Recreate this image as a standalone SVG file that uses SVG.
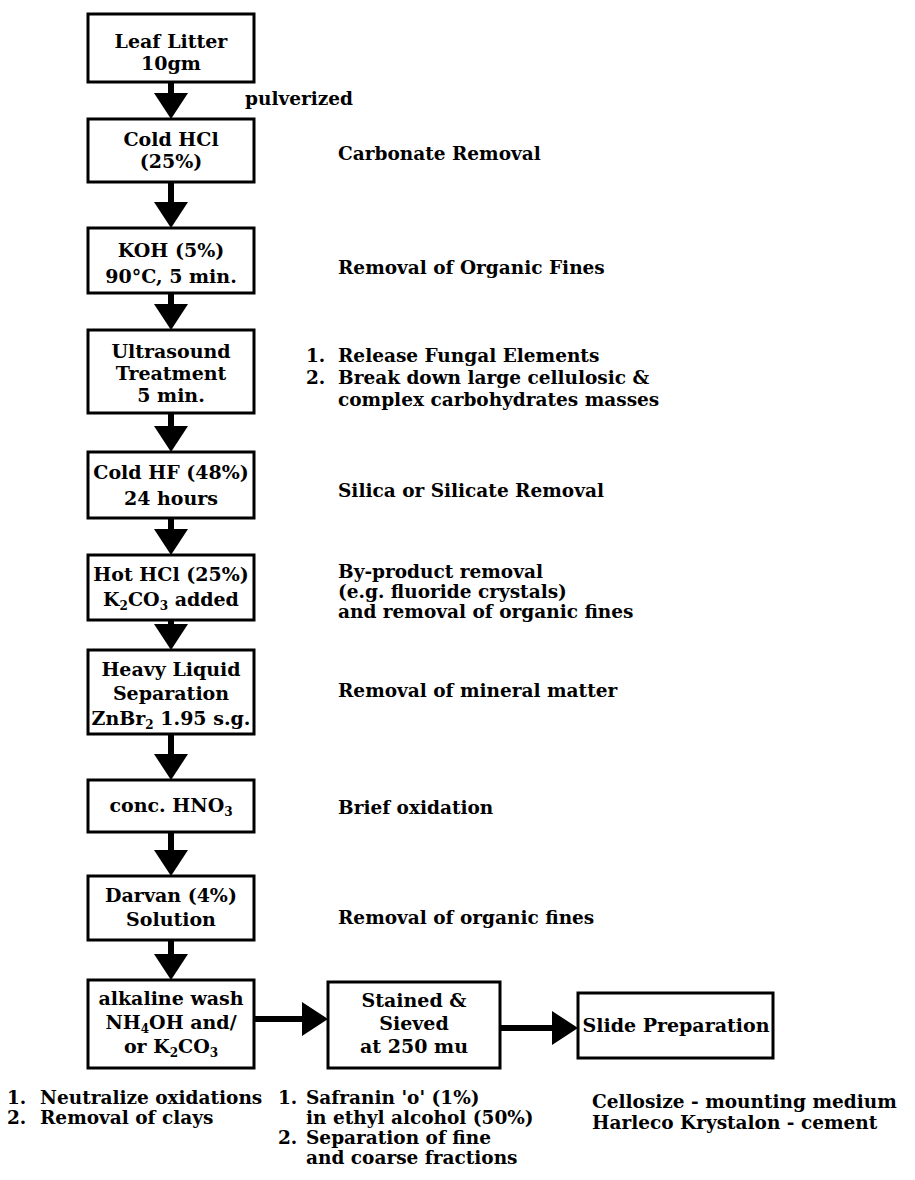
<svg xmlns="http://www.w3.org/2000/svg" width="915" height="1180" viewBox="0 0 915 1180">
<style>
text{font-family:"DejaVu Serif","Liberation Serif",serif;font-weight:bold;font-size:19px;fill:#000}
#notes text{font-size:18.5px}
.c{text-anchor:middle}
.box{fill:#fff;stroke:#000;stroke-width:3}
.sub{font-size:12px}
.con line{stroke:#000;stroke-width:6}
</style>
<defs>
<marker id="ah" viewBox="0 0 26 34" refX="6" refY="17" markerWidth="26" markerHeight="34" markerUnits="userSpaceOnUse" orient="auto"><path d="M0,0 L26,17 L0,34 Z" fill="#000"/></marker>
</defs>
<rect width="915" height="1180" fill="#fff"/>
<g class="con" id="connectors">
<line x1="171" y1="82" x2="171" y2="99" marker-end="url(#ah)"/>
<line x1="171" y1="182" x2="171" y2="208" marker-end="url(#ah)"/>
<line x1="171" y1="293" x2="171" y2="310" marker-end="url(#ah)"/>
<line x1="171" y1="413" x2="171" y2="432" marker-end="url(#ah)"/>
<line x1="171" y1="518" x2="171" y2="535" marker-end="url(#ah)"/>
<line x1="171" y1="620" x2="171" y2="630" marker-end="url(#ah)"/>
<line x1="171" y1="734" x2="171" y2="760" marker-end="url(#ah)"/>
<line x1="171" y1="832" x2="171" y2="856" marker-end="url(#ah)"/>
<line x1="171" y1="940" x2="171" y2="960" marker-end="url(#ah)"/>
<line x1="254" y1="1019" x2="308" y2="1019" marker-end="url(#ah)"/>
<line x1="500" y1="1028" x2="558" y2="1028" marker-end="url(#ah)"/>
</g>
<g id="notes">
<text x="245" y="105">pulverized</text>
<text x="338" y="160">Carbonate Removal</text>
<text x="338" y="274">Removal of Organic Fines</text>
<text x="306" y="362">1.</text><text x="338" y="362">Release Fungal Elements</text>
<text x="306" y="384">2.</text><text x="338" y="384">Break down large cellulosic &amp;</text>
<text x="338" y="406">complex carbohydrates masses</text>
<text x="338" y="497">Silica or Silicate Removal</text>
<text x="338" y="578">By-product removal</text>
<text x="338" y="598">(e.g. fluoride crystals)</text>
<text x="338" y="618">and removal of organic fines</text>
<text x="338" y="697">Removal of mineral matter</text>
<text x="338" y="814">Brief oxidation</text>
<text x="338" y="924">Removal of organic fines</text>
<text x="7" y="1104">1.</text><text x="40" y="1104">Neutralize oxidations</text>
<text x="7" y="1124">2.</text><text x="40" y="1124">Removal of clays</text>
<text x="278" y="1104">1.</text><text x="306" y="1104">Safranin 'o' (1%)</text>
<text x="306" y="1124">in ethyl alcohol (50%)</text>
<text x="278" y="1144">2.</text><text x="306" y="1144">Separation of fine</text>
<text x="306" y="1164">and coarse fractions</text>
<text x="592" y="1108">Cellosize - mounting medium</text>
<text x="592" y="1129">Harleco Krystalon - cement</text>
</g>
<g id="n1"><rect class="box" x="88" y="14" width="166" height="68"/><text class="c" x="171" y="48">Leaf Litter</text><text class="c" x="171" y="70">10gm</text></g>
<g id="n2"><rect class="box" x="88" y="119" width="166" height="63"/><text class="c" x="171" y="146">Cold HCl</text><text class="c" x="171" y="168">(25%)</text></g>
<g id="n3"><rect class="box" x="88" y="228" width="166" height="65"/><text class="c" x="171" y="257">KOH (5%)</text><text class="c" x="171" y="283">90°C, 5 min.</text></g>
<g id="n4"><rect class="box" x="88" y="330" width="166" height="83"/><text class="c" x="171" y="358">Ultrasound</text><text class="c" x="171" y="380">Treatment</text><text class="c" x="171" y="402">5 min.</text></g>
<g id="n5"><rect class="box" x="88" y="452" width="166" height="66"/><text class="c" x="171" y="479">Cold HF (48%)</text><text class="c" x="171" y="505">24 hours</text></g>
<g id="n6"><rect class="box" x="88" y="555" width="166" height="65"/><text class="c" x="171" y="581">Hot HCl (25%)</text><text class="c" x="171" y="606">K<tspan class="sub" dy="4">2</tspan><tspan dy="-4">CO</tspan><tspan class="sub" dy="4">3</tspan><tspan dy="-4"> added</tspan></text></g>
<g id="n7"><rect class="box" x="88" y="650" width="166" height="84"/><text class="c" x="171" y="676">Heavy Liquid</text><text class="c" x="171" y="700">Separation</text><text class="c" x="171" y="725">ZnBr<tspan class="sub" dy="4">2</tspan><tspan dy="-4"> 1.95 s.g.</tspan></text></g>
<g id="n8"><rect class="box" x="88" y="780" width="166" height="52"/><text class="c" x="171" y="812">conc. HNO<tspan class="sub" dy="4">3</tspan></text></g>
<g id="n9"><rect class="box" x="88" y="876" width="166" height="64"/><text class="c" x="171" y="902">Darvan (4%)</text><text class="c" x="171" y="926">Solution</text></g>
<g id="n10"><rect class="box" x="88" y="980" width="166" height="88"/><text class="c" x="171" y="1005">alkaline wash</text><text class="c" x="171" y="1029">NH<tspan class="sub" dy="4">4</tspan><tspan dy="-4">OH and/</tspan></text><text class="c" x="171" y="1053">or  K<tspan class="sub" dy="4">2</tspan><tspan dy="-4">CO</tspan><tspan class="sub" dy="4">3</tspan></text></g>
<g id="n11"><rect class="box" x="328" y="982" width="172" height="86"/><text class="c" x="414" y="1007">Stained &amp;</text><text class="c" x="414" y="1030">Sieved</text><text class="c" x="414" y="1053">at 250 mu</text></g>
<g id="n12"><rect class="box" x="578" y="993" width="195" height="65"/><text class="c" x="676" y="1032">Slide Preparation</text></g>
</svg>
